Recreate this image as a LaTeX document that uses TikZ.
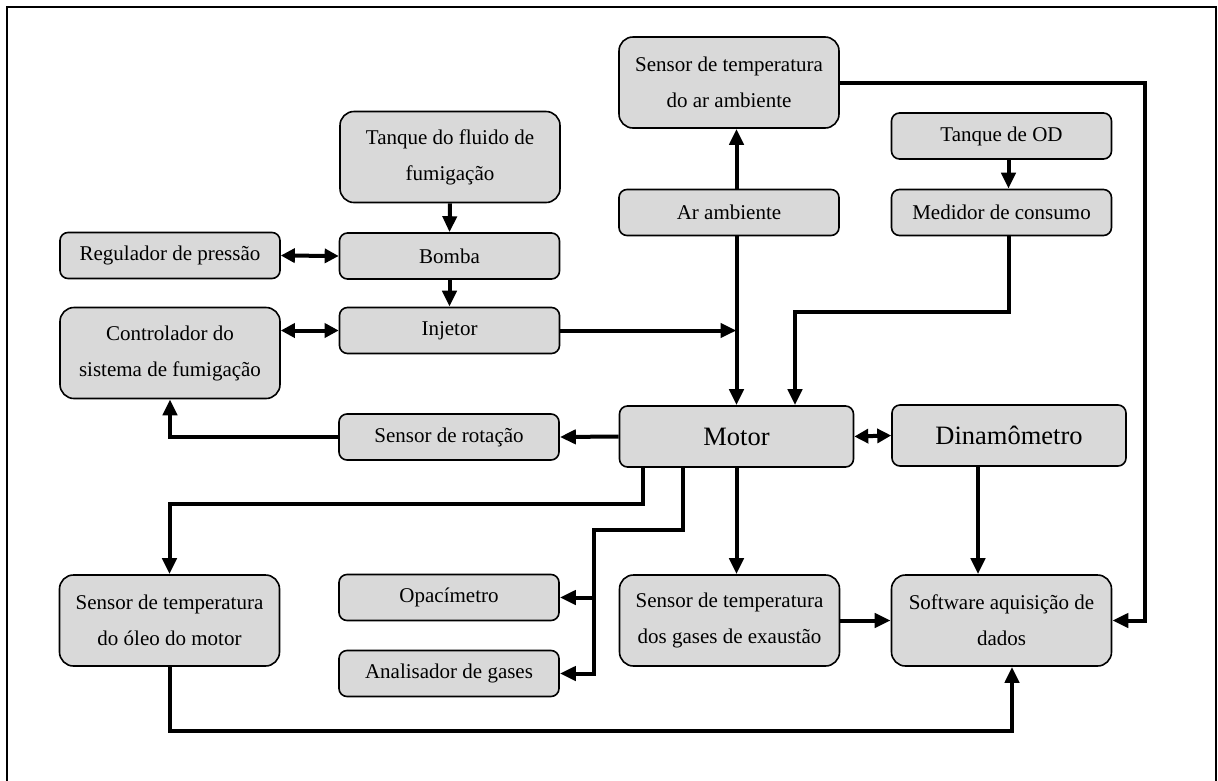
\documentclass[tikz,border=0pt]{standalone}
\usepackage{fontspec}
\setmainfont{Liberation Serif}
\usetikzlibrary{arrows.meta,calc}
\definecolor{cinza}{HTML}{D9D9D9}

\begin{document}
\begin{tikzpicture}[x=1pt, y=-1pt,
  caixa/.style={draw, fill=cinza, line width=1.6pt, rounded corners=8pt, align=center,
    inner sep=0pt, font=\fontsize{21}{36}\selectfont, minimum width=220pt, minimum height=46pt},
  caixa2/.style={caixa, rounded corners=14pt, minimum height=91pt},
  grande/.style={caixa, minimum width=234pt, minimum height=61pt, font=\fontsize{26.5}{30}\selectfont},
  linha/.style={line width=4pt},
  conn/.style={linha, -{Triangle[length=16pt,width=14pt]}},
  conn2/.style={linha, {Triangle[length=14pt,width=14pt]}-{Triangle[length=14pt,width=14pt]}}]
  \useasboundingbox (0,0) rectangle (1218,780);
  % Moldura
  \draw[line width=2.5pt] (7,7) rectangle (1216,795);
  % Caixas
  \node[caixa2] (sensorAr) at (729,82.5) {Sensor de temperatura\\do ar ambiente};
  \node[caixa2] (tanqueFl) at (450,157) {Tanque do fluido de\\fumigação};
  \node[caixa] (tanqueOD) at (1001.5,136) {Tanque de OD};
  \node[caixa] (arAmb) at (729,212.5) {Ar ambiente};
  \node[caixa] (medidor) at (1001.5,212.5) {Medidor de consumo};
  \node[caixa] (regulador) at (170,255.5) {Regulador de pressão};
  \node[caixa] (bomba) at (449.5,256) {Bomba};
  \node[caixa2] (controlador) at (170,353) {Controlador do\\sistema de fumigação};
  \node[caixa] (injetor) at (449.5,330.5) {Injetor};
  \node[caixa] (rotacao) at (449,437) {Sensor de rotação};
  \node[grande] (motor) at (736.5,436.5) {Motor};
  \node[grande] (dinamo) at (1009,435.5) {Dinamômetro};
  \node[caixa2] (oleo) at (169.5,620.5) {Sensor de temperatura\\do óleo do motor};
  \node[caixa] (opac) at (449,597.5) {Opacímetro};
  \node[caixa] (analisador) at (449,673.5) {Analisador de gases};
  \node[caixa2] (gases) at (729.5,620.5) {Sensor de temperatura\\dos gases de exaustão};
  \node[caixa2] (software) at (1001.5,620.5) {Software aquisição de\\dados};
  % Pontos de dobra
  \coordinate (kAr) at (1145,0);
  \coordinate (kMed) at (795,312);
  \coordinate (kDin) at (978,0);
  \coordinate (kOl) at (643,504);
  \coordinate (kGa) at (683,530);
  \coordinate (kBr) at (594,530);
  \coordinate (kBo) at (1012,731);
  % Fluido de fumigacao
  \draw[conn] (tanqueFl.south) -- (bomba.north);
  \draw[conn2] (regulador.east) -- (bomba.west);
  \draw[conn] (bomba.south) -- (injetor.north);
  \draw[conn2] (injetor.west -| controlador.east) -- (injetor.west);
  \draw[conn] (injetor.east) -- (injetor.east -| motor.north);
  % Ar e combustivel
  \draw[conn] (arAmb.north -| motor.north) -- (sensorAr.south -| motor.north);
  \draw[conn] (arAmb.south -| motor.north) -- (motor.north);
  \draw[conn] (tanqueOD.south) ++(7,0) -- ($(medidor.north)+(7,0)$);
  \draw[conn] ($(medidor.south)+(7,0)$) |- (kMed) -- (kMed |- motor.north);
  \draw[conn] (sensorAr.east) -- (sensorAr.east -| kAr) |- (software.east);
  % Saidas do motor
  \draw[conn] (motor.west) -- (rotacao.east);
  \draw[conn] (rotacao.west) -| (controlador.south);
  \draw[conn2] (motor.east) -- (dinamo.west);
  \draw[conn] (dinamo.south -| kDin) -- (software.north -| kDin);
  \draw[conn] (motor.south) -- (motor.south |- gases.north);
  \draw[conn] (kOl |- motor.south) -- (kOl) -| (oleo.north);
  \draw[conn] (kGa |- motor.south) -- (kGa) -- (kBr) |- (analisador.east);
  \draw[conn] (kBr |- opac.east) -- (opac.east);
  \draw[conn] (gases.east) -- (software.west);
  \draw[conn] (oleo.south) |- (kBo) -- (kBo |- software.south);
\end{tikzpicture}
\end{document}
